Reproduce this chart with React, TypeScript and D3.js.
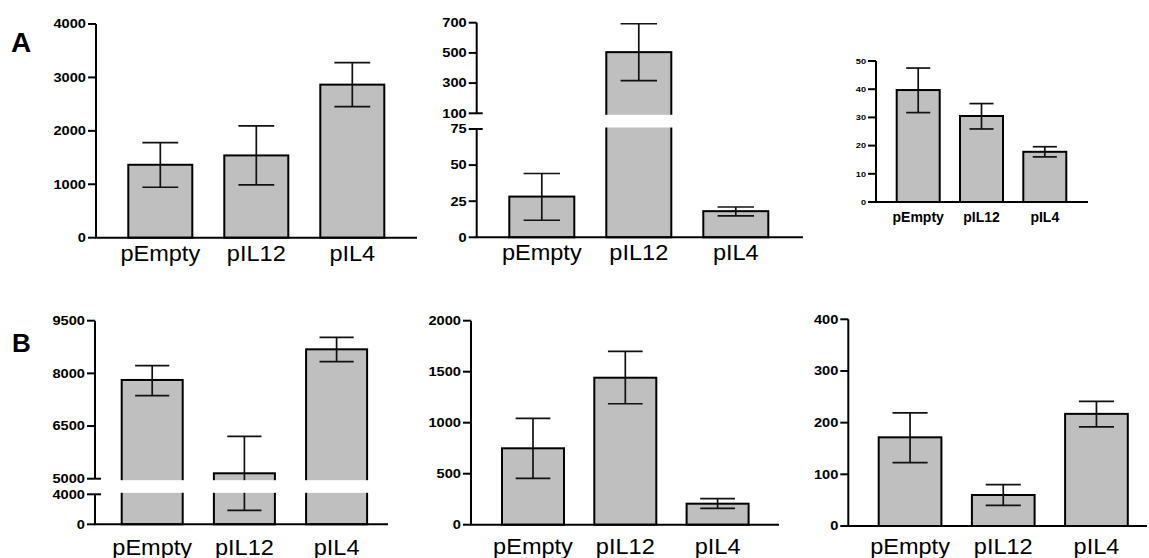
import React from "react";
import * as d3 from "d3";

// Groups shared by every panel
const categories = ["pEmpty", "pIL12", "pIL4"];

// Panel A, left: mean with lower / upper whisker ends
const a1Mean = [1365, 1540, 2865];
const a1Low = [944, 987, 2453];
const a1High = [1779, 2092, 3277];
const a1Ticks = [0, 1000, 2000, 3000, 4000];

// Panel A, middle (broken axis 75 | 100)
const a2Mean = [28.2, 505, 18.1];
const a2Low = [11.8, 317, 14.8];
const a2High = [44.2, 693, 21];
const a2Ticks = [0, 25, 50, 75, 100, 300, 500, 700];

// Panel A, right
const a3Mean = [39.7, 30.5, 17.8];
const a3Low = [31.7, 25.9, 16];
const a3High = [47.5, 34.9, 19.6];
const a3Ticks = [0, 10, 20, 30, 40, 50];

// Panel B, left (broken axis 4000 | 5000)
const b1Mean = [7812, 5154, 8685];
const b1Low = [7365, 1867, 8332];
const b1High = [8219, 6208, 9027];
const b1Ticks = [0, 4000, 5000, 6500, 8000, 9500];

// Panel B, middle
const b2Mean = [749, 1441, 206];
const b2Low = [455, 1186, 161];
const b2High = [1043, 1700, 255];
const b2Ticks = [0, 500, 1000, 1500, 2000];

// Panel B, right
const b3Mean = [171.6, 60, 217];
const b3Low = [122.5, 40, 192];
const b3High = [219, 80, 241];
const b3Ticks = [0, 100, 200, 300, 400];

type Panel = {
  mean: number[];
  low: number[];
  high: number[];
  ticks: number[];
  domain: number[];
  range: number[];
  brk?: [number, number];
  axisX: number;
  baseEnd: number;
  bandStart: number;
  step: number;
  barW: number;
  tickFont: number;
  tickStretch: number;
  catFont: number;
  catWeight: string;
  catStretch: number;
  catY: number;
};

const FONT = "'Liberation Sans', Arial, Helvetica, sans-serif";

const panels: Panel[] = [
  {
    mean: a1Mean, low: a1Low, high: a1High, ticks: a1Ticks,
    domain: [0, 4000], range: [237.7, 24],
    axisX: 96, baseEnd: 417, bandStart: 128.3, step: 96, barW: 64,
    tickFont: 12, tickStretch: 1.22, catFont: 22, catWeight: "normal", catStretch: 1.07, catY: 261,
  },
  {
    mean: a2Mean, low: a2Low, high: a2High, ticks: a2Ticks,
    domain: [0, 75, 100, 700], range: [237.3, 129, 113.3, 22.7], brk: [75, 100],
    axisX: 476.7, baseEnd: 803, bandStart: 509.3, step: 97, barW: 65,
    tickFont: 12, tickStretch: 1.22, catFont: 22, catWeight: "normal", catStretch: 1.07, catY: 260,
  },
  {
    mean: a3Mean, low: a3Low, high: a3High, ticks: a3Ticks,
    domain: [0, 50], range: [202, 61],
    axisX: 876, baseEnd: 1088, bandStart: 896.7, step: 63.3, barW: 43,
    tickFont: 8, tickStretch: 1.15, catFont: 14, catWeight: "bold", catStretch: 1.0, catY: 221.7,
  },
  {
    mean: b1Mean, low: b1Low, high: b1High, ticks: b1Ticks,
    domain: [0, 4000, 5000, 9500], range: [524.3, 494.3, 478.7, 320.7], brk: [4000, 5000],
    axisX: 95, baseEnd: 388, bandStart: 121.7, step: 92.2, barW: 61,
    tickFont: 12, tickStretch: 1.22, catFont: 22, catWeight: "normal", catStretch: 1.07, catY: 555,
  },
  {
    mean: b2Mean, low: b2Low, high: b2High, ticks: b2Ticks,
    domain: [0, 2000], range: [524.7, 320.7],
    axisX: 471, baseEnd: 779, bandStart: 502, step: 92.3, barW: 62,
    tickFont: 12, tickStretch: 1.22, catFont: 22, catWeight: "normal", catStretch: 1.07, catY: 554,
  },
  {
    mean: b3Mean, low: b3Low, high: b3High, ticks: b3Ticks,
    domain: [0, 400], range: [526, 319.3],
    axisX: 848.3, baseEnd: 1147, bandStart: 878.7, step: 93.2, barW: 62.7,
    tickFont: 12, tickStretch: 1.22, catFont: 22, catWeight: "normal", catStretch: 1.07, catY: 554,
  },
];

function BarPanel({ p }: { p: Panel }) {
  const y = d3.scaleLinear().domain(p.domain).range(p.range);
  const gap = p.step - p.barW;
  const x = d3
    .scaleBand<string>()
    .domain(categories)
    .range([p.bandStart - gap / 2, p.bandStart - gap / 2 + categories.length * p.step])
    .paddingInner(gap / p.step)
    .paddingOuter(gap / p.step / 2);
  const bw = x.bandwidth();
  const cap = bw * 0.56;
  const y0 = y(0);
  const yMax = y(p.domain[p.domain.length - 1]);

  const axisSegments: [number, number][] = p.brk
    ? [
        [y0, y(p.brk[0])],
        [y(p.brk[1]), yMax],
      ]
    : [[y0, yMax]];

  return (
    <g>
      {categories.map((c, i) => (
        <rect
          key={"bar" + c}
          x={x(c)}
          y={y(p.mean[i])}
          width={bw}
          height={y0 - y(p.mean[i])}
          fill="#bfbfbf"
          stroke="#000"
          strokeWidth={2}
        />
      ))}
      {categories.map((c, i) => {
        const cx = (x(c) as number) + bw / 2;
        const yl = y(p.low[i]);
        const yh = y(p.high[i]);
        return (
          <g key={"err" + c} stroke="#111" strokeWidth={1.7}>
            <line x1={cx} x2={cx} y1={yl} y2={yh} />
            <line x1={cx - cap / 2} x2={cx + cap / 2} y1={yh} y2={yh} />
            <line x1={cx - cap / 2} x2={cx + cap / 2} y1={yl} y2={yl} />
          </g>
        );
      })}
      {p.brk &&
        categories.map((c) => (
          <rect
            key={"gap" + c}
            x={(x(c) as number) - 3}
            width={bw + 6}
            y={y(p.brk![1]) + 1.5}
            height={y(p.brk![0]) - y(p.brk![1]) - 3}
            fill="#fff"
          />
        ))}
      {axisSegments.map(([a, b], i) => (
        <line key={"ax" + i} x1={p.axisX} x2={p.axisX} y1={a} y2={b} stroke="#000" strokeWidth={2} />
      ))}
      <line x1={p.axisX - 1} x2={p.baseEnd} y1={y0} y2={y0} stroke="#000" strokeWidth={2} />
      {p.ticks.map((t) => {
        const ty = y(t);
        const isBreak = p.brk && (t === p.brk[0] || t === p.brk[1]);
        return (
          <g key={"t" + t}>
            <line
              x1={p.axisX - 8}
              x2={isBreak ? p.axisX + 6 : p.axisX}
              y1={ty}
              y2={ty}
              stroke="#000"
              strokeWidth={2}
            />
            <text
              transform={`translate(${p.axisX - 10},${ty}) scale(${p.tickStretch},1)`}
              textAnchor="end"
              dy="0.36em"
              fontFamily={FONT}
              fontWeight="bold"
              fontSize={p.tickFont}
              fill="#000"
            >
              {t}
            </text>
          </g>
        );
      })}
      {categories.map((c) => (
        <text
          key={"lab" + c}
          transform={`translate(${(x(c) as number) + bw / 2},${p.catY}) scale(${p.catStretch},1)`}
          textAnchor="middle"
          fontFamily={FONT}
          fontWeight={p.catWeight}
          fontSize={p.catFont}
          fill="#000"
        >
          {c}
        </text>
      ))}
    </g>
  );
}

export default function App() {
  return (
    <svg
      width={1149}
      height={558}
      style={{ position: "absolute", left: 0, top: 0, background: "#fff" }}
    >
      <rect width={1149} height={558} fill="#fff" />
      <text x={11} y={52} fontFamily={FONT} fontWeight="bold" fontSize={28}>
        A
      </text>
      <text x={12} y={351.5} fontFamily={FONT} fontWeight="bold" fontSize={26}>
        B
      </text>
      {panels.map((p, i) => (
        <BarPanel key={i} p={p} />
      ))}
    </svg>
  );
}
